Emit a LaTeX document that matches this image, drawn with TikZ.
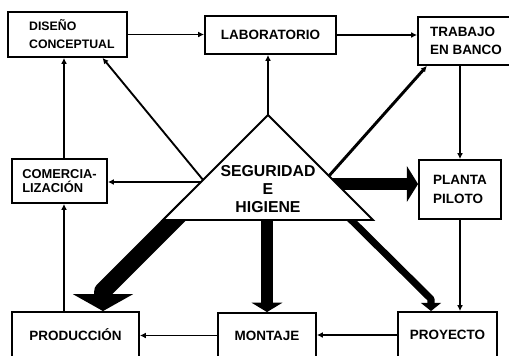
\documentclass[tikz,border=0pt]{standalone}
\usepackage{fontspec}
\setmainfont{Liberation Sans}
\usetikzlibrary{calc,arrows.meta}
\tikzstyle{box} = [rectangle, draw=black, line width=1.6pt, fill=white, align=left, font=\fontsize{11.5}{15.5}\selectfont\bfseries]
\tikzstyle{arrow} = [line width=1.6pt, -{Latex[length=5pt,width=5pt]}]
\tikzstyle{fat} = [line join=round]

\begin{document}
\begin{tikzpicture}[x=0.03cm, y=-0.03cm]
\tikzset{%
	tri/.style = {draw=black, line width=1.6pt, fill=white},
	sh/.style = {align=center, font=\fontsize{13.5}{15}\selectfont\bfseries}
}
\useasboundingbox (0,0) rectangle (509,355);
\clip (0,0) rectangle (509,355);

\node(dc) [box, minimum width=3.57cm, minimum height=1.35cm, text width=2.3cm, font=\fontsize{10.5}{15.5}\selectfont\bfseries] at (67.5,34.5) {DISEÑO\\CONCEPTUAL};
\node(lab) [box, minimum width=3.93cm, minimum height=1.14cm] at (270.5,35) {LABORATORIO};
\node(tb) [box, minimum width=2.88cm, minimum height=1.44cm] at (466,41) {TRABAJO\\EN BANCO};
\node(com) [box, minimum width=2.85cm, minimum height=1.32cm, font=\fontsize{11}{12}\selectfont\bfseries] at (59.5,181) {COMERCIA-\\LIZACIÓN};
\node(pp) [box, minimum width=2.46cm, minimum height=1.77cm] at (460,189.5) {PLANTA\\PILOTO};
\node(prod) [box, minimum width=3.81cm, minimum height=1.38cm] at (75.5,335) {PRODUCCIÓN};
\node(mon) [box, minimum width=2.94cm, minimum height=1.35cm] at (267,335.5) {MONTAJE};
\node(proy) [box, minimum width=2.97cm, minimum height=1.38cm] at (447.5,335) {PROYECTO};

\coordinate (top) at (268,115);
\coordinate (bl) at (163,220);
\coordinate (br) at (373,220);
\coordinate (vl) at (64,0);

\draw [arrow] (dc.east) -- (dc.east -| lab.west);
\draw [arrow] (lab.east) -- (lab.east -| tb.west);
\draw [arrow] (pp.north |- tb.south) -- (pp.north);
\draw [arrow] (pp.south) -- (pp.south |- proy.north);
\draw [arrow] (proy.west) -- (proy.west -| mon.east);
\draw [arrow] (mon.west) -- (mon.west -| prod.east);
\draw [arrow] (vl |- prod.north) -- (vl |- com.south);
\draw [arrow] (vl |- com.north) -- (vl |- dc.south);

\coordinate (s1) at (268,130);
\coordinate (s2) at (213,192);
\coordinate (e2) at ($(dc.south west)!0.79!(dc.south east)$);
\coordinate (s3) at (220,182);
\coordinate (s4) at (320,186);
\coordinate (e4) at ($(tb.south west)!0.1!(tb.south east)$);
\coordinate (s5) at (320,184);
\coordinate (s6) at (267,200);
\coordinate (s7) at (330,199);
\coordinate (k7) at (431,299);
\coordinate (s8) at (190,204);
\coordinate (k8) at (103,291);

\draw [arrow] (s1) -- (s1 |- lab.south);
\draw [arrow] (s2) -- (e2);
\draw [arrow] (s3) -- (s3 -| com.east);
\draw [arrow, line width=2.5pt] (s4) -- (e4);
\draw [fat, line width=11pt, -{Triangle[length=9.5pt,width=30pt]}] (s5) -- (s5 -| pp.west);
\draw [fat, line width=9.4pt, -{Triangle[length=8pt,width=26pt]}] (s6) -- (s6 |- mon.north);
\draw [fat, line width=6pt, -{Triangle[length=7pt,width=17pt]}] (s7) -- (k7) -- (k7 |- proy.north);
\draw [fat, line width=15pt, -{Triangle[length=14.5pt,width=51pt]}] (s8) -- (k8) -- (k8 |- prod.north);

\draw [tri] (top) -- (bl) -- (br) -- cycle;
\node(sgh) [sh] at (268,189) {SEGURIDAD\\E\\HIGIENE};
\end{tikzpicture}
\end{document}
